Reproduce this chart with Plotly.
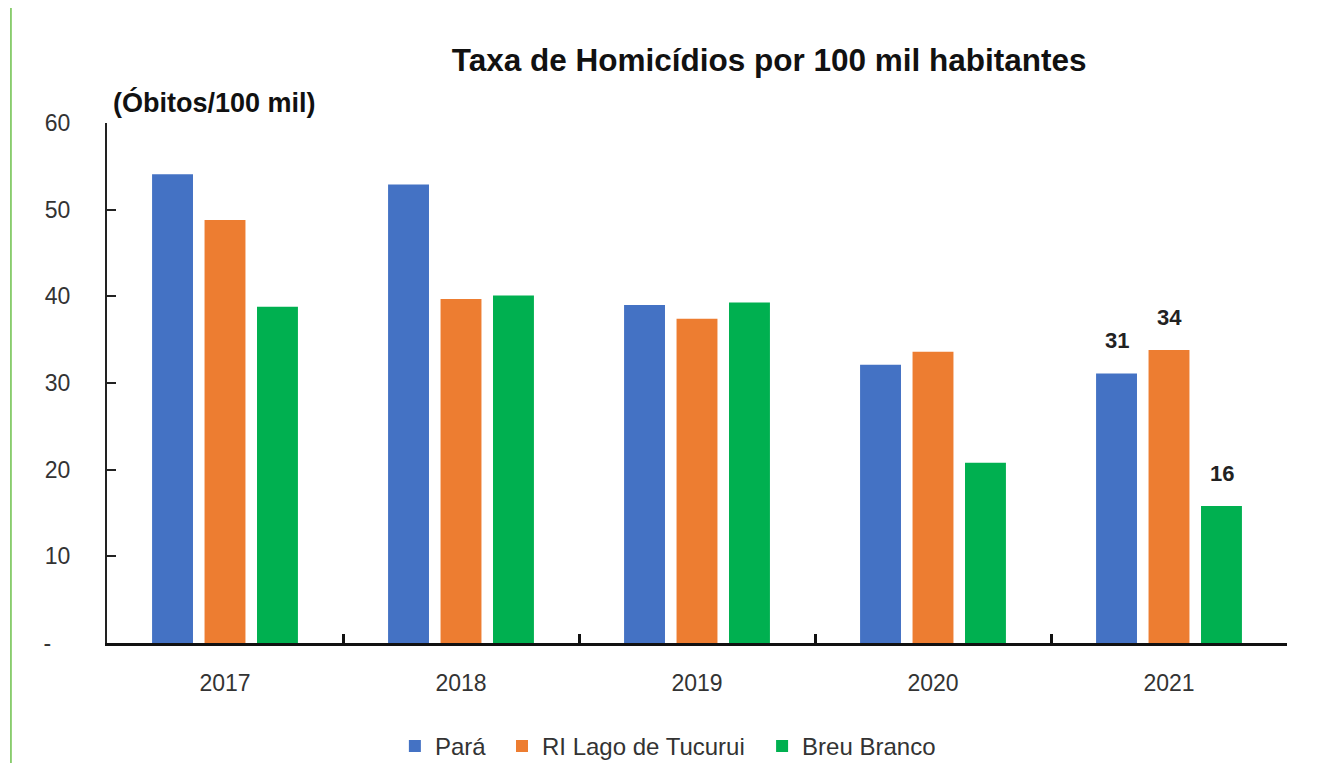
import plotly.graph_objects as go

years = ["2017", "2018", "2019", "2020", "2021"]
series_names = ["Pará", "RI Lago de Tucurui", "Breu Branco"]
para = [54.1, 52.9, 39.0, 32.1, 31.1]
ri_lago = [48.8, 39.7, 37.4, 33.6, 33.8]
breu_branco = [38.8, 40.1, 39.3, 20.8, 15.8]
colors = ["#4472C4", "#ED7D31", "#00B050"]
label_year = "2021"
y_tickvals = [0, 10, 20, 30, 40, 50, 60]
y_ticktext = ["-\u00a0\u00a0\u00a0", "10", "20", "30", "40", "50", "60"]

FONT = "Liberation Sans, Arial, sans-serif"

fig = go.Figure()
all_series = [para, ri_lago, breu_branco]
legend_ids = ["legend", "legend2", "legend3"]
for name, vals, col, lg in zip(series_names, all_series, colors, legend_ids):
    fig.add_trace(go.Bar(x=years, y=vals, name=name, legend=lg,
                         marker=dict(color=col, line=dict(width=0))))

# data labels on the last year (category index on the category axis)
offsets = [-1, 0, 1]
idx = years.index(label_year)
for vals, off in zip(all_series, offsets):
    fig.add_annotation(x=idx, y=vals[idx], text="<b>%d</b>" % round(vals[idx]),
                       showarrow=False, yanchor="bottom", yshift=18, xshift=off * 52.5,
                       font=dict(family=FONT, size=22, color="#222222"))

fig.add_annotation(xref="paper", yref="paper", x=0.0915, y=1.0385, text="<b>(Óbitos/100 mil)</b>",
                   showarrow=False, xanchor="center", yanchor="middle",
                   font=dict(family=FONT, size=27, color="#111111"))

fig.add_shape(type="line", xref="paper", yref="paper", x0=-0.0814, x1=-0.0814, y0=-0.25, y1=1.25,
              line=dict(color="#6CC04A", width=1.5))

leg_common = dict(orientation="h", xanchor="left", yref="container", y=0.022, yanchor="middle",
                  xref="container", font=dict(family=FONT, size=24, color="#333333"), itemwidth=30,
                  bgcolor="rgba(0,0,0,0)")
fig.update_layout(
    width=1311, height=755,
    margin=dict(l=99, r=32, t=115, b=120),
    paper_bgcolor="white", plot_bgcolor="white",
    title=dict(text="<b>Taxa de Homicídios por 100 mil habitantes</b>", x=0.5806, xanchor="center",
               y=0.931, yanchor="middle", font=dict(family=FONT, size=31.5, color="#111111")),
    bargap=0.333, bargroupgap=0.22,
    showlegend=True,
    legend=dict(x=0.2951, **leg_common),
    legend2=dict(x=0.3768, **leg_common),
    legend3=dict(x=0.5752, **leg_common),
    font=dict(family=FONT, color="#333333"),
)
fig.update_xaxes(type="category", range=[-0.5, len(years) - 0.5], showline=True, linecolor="#111111",
                 linewidth=2.5, ticks="inside",
                 tickson="boundaries", ticklen=9, tickwidth=2.5, tickcolor="#111111", showgrid=False,
                 tickfont=dict(family=FONT, size=23, color="#333333"), ticklabelstandoff=18,
                 automargin=False)
fig.update_yaxes(range=[0, 60], tickvals=y_tickvals, ticktext=y_ticktext, showline=True,
                 linecolor="#222222", linewidth=2, ticks="inside", ticklen=9, tickwidth=2,
                 tickcolor="#222222", showgrid=False, zeroline=False, automargin=False,
                 tickfont=dict(family=FONT, size=23, color="#333333"), ticklabelstandoff=30)

fig.write_html("out.html")
